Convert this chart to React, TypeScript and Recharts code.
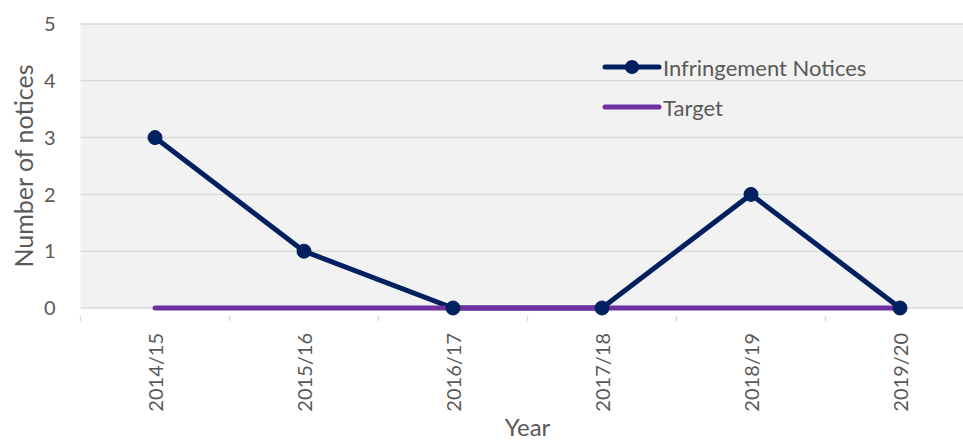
import { CartesianGrid, Line, LineChart, XAxis, YAxis } from "recharts";

const years = ["2014/15", "2015/16", "2016/17", "2017/18", "2018/19", "2019/20"];
const notices = [3, 1, 0, 0, 2, 0];
const target = [0, 0, 0, 0, 0, 0];
const yTicks = [0, 1, 2, 3, 4, 5];

const data = years.map((year, i) => ({ year, notices: notices[i], target: target[i] }));

const NAVY = "#002060";
const PURPLE = "#7030a0";
const TEXT = "#595959";
const GRID = "#d9d9d9";
const FONT = "Lato, 'Open Sans', sans-serif";

const CHART_W = 990;
const CHART_H = 441;
const MARGIN = { top: 24, right: 15.5, bottom: 0, left: 0.5 };
const Y_W = 80;

function YearTick(props: any) {
  const { x, y, payload, width, visibleTicksCount } = props;
  const plotW = width ?? CHART_W - MARGIN.left - MARGIN.right - Y_W;
  const band = plotW / (visibleTicksCount || years.length);
  const left = x - band / 2;
  return (
    <g>
      <line x1={left} y1={y} x2={left} y2={y + 5} stroke={GRID} strokeWidth={1.5} />
      <text
        x={0}
        y={0}
        transform={`translate(${x},${y + 17}) rotate(-90)`}
        textAnchor="end"
        dominantBaseline="central"
        fontSize={20}
        fill={TEXT}
        fontFamily={FONT}
      >
        {payload.value}
      </text>
    </g>
  );
}

// legend sits inside the plot, top right, like the original
function ChartLegend() {
  const rows = [
    { name: "Infringement Notices", color: NAVY, dot: true },
    { name: "Target", color: PURPLE, dot: false }
  ];
  return (
    <svg width={300} height={80} style={{ position: "absolute", left: 602, top: 53, overflow: "visible" }}>
      {rows.map((row, i) => {
        const cy = 14 + i * 40;
        return (
          <g key={row.name}>
            <line x1={3} y1={cy} x2={57} y2={cy} stroke={row.color} strokeWidth={5} strokeLinecap="round" />
            {row.dot && <circle cx={30} cy={cy} r={7} fill={row.color} />}
            <text x={61} y={cy} dominantBaseline="central" fontSize={22} fill={TEXT} fontFamily={FONT}>
              {row.name}
            </text>
          </g>
        );
      })}
    </svg>
  );
}

export default function App() {
  return (
    <div style={{ position: "absolute", left: 0, top: 0, width: 963, height: 441, overflow: "hidden", background: "#fff" }}>
      <LineChart width={CHART_W} height={CHART_H} data={data} margin={MARGIN}>
        <CartesianGrid fill="#f2f2f2" stroke={GRID} strokeWidth={1.5} vertical={false} />
        <XAxis
          dataKey="year"
          scale="band"
          height={133}
          interval={0}
          axisLine={false}
          tickLine={false}
          tick={<YearTick />}
          label={({ viewBox }: any) => (
            <text
              x={viewBox.x + viewBox.width / 2}
              y={viewBox.y + viewBox.height - 5}
              textAnchor="middle"
              fontSize={24}
              fill={TEXT}
              fontFamily={FONT}
            >
              Year
            </text>
          )}
        />
        <YAxis
          width={Y_W}
          domain={[0, 5]}
          ticks={yTicks}
          axisLine={false}
          tickLine={false}
          tickSize={0}
          tickMargin={25}
          tick={{ fontSize: 20, fill: TEXT, fontFamily: FONT }}
          label={({ viewBox }: any) => (
            <text
              x={0}
              y={0}
              transform={`translate(23,${viewBox.y + viewBox.height / 2}) rotate(-90)`}
              textAnchor="middle"
              dominantBaseline="central"
              fontSize={25}
              fill={TEXT}
              fontFamily={FONT}
            >
              Number of notices
            </text>
          )}
        />
        <Line
          dataKey="notices"
          name="Infringement Notices"
          stroke={NAVY}
          strokeWidth={5}
          dot={false}
          activeDot={false}
          isAnimationActive={false}
        />
        <Line
          dataKey="target"
          name="Target"
          stroke={PURPLE}
          strokeWidth={5}
          strokeLinecap="round"
          dot={false}
          activeDot={false}
          isAnimationActive={false}
        />
        <Line
          dataKey="notices"
          name="dots"
          legendType="none"
          stroke="none"
          dot={{ r: 7, fill: NAVY, stroke: NAVY, strokeWidth: 1 }}
          activeDot={false}
          isAnimationActive={false}
        />
      </LineChart>
      <ChartLegend />
    </div>
  );
}
